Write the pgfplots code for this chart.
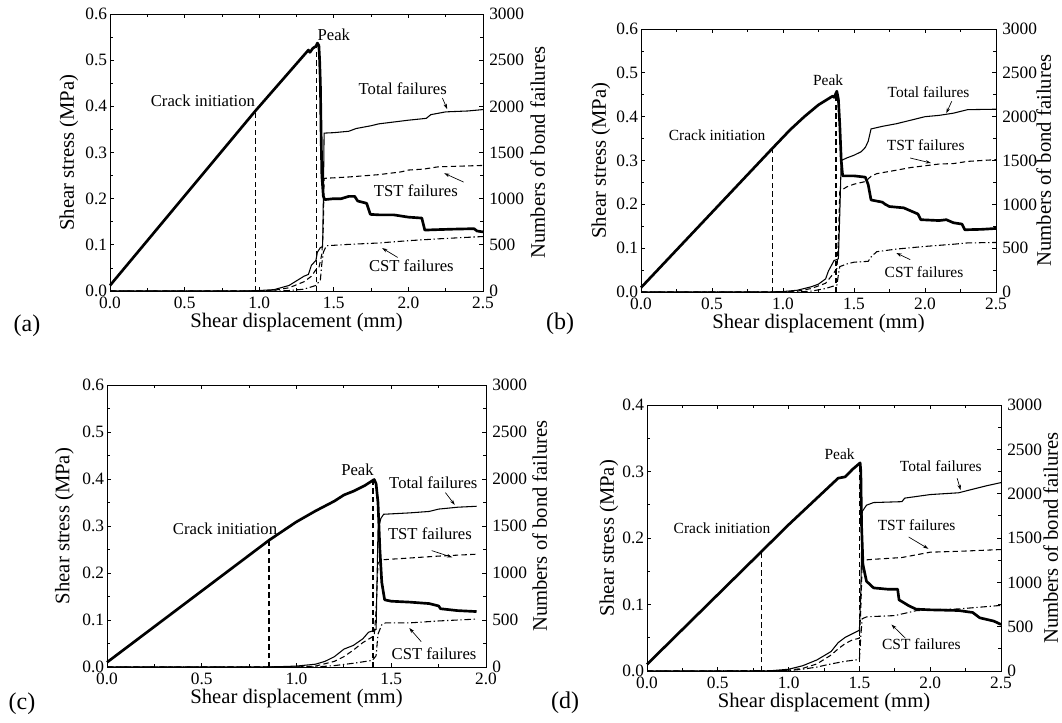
\documentclass[border=0pt]{standalone}
\usepackage{fontspec}
\setmainfont{Liberation Serif}
\usepackage{pgfplots}
\pgfplotsset{compat=1.18}
\usetikzlibrary{arrows.meta}

\newcommand{\tickfont}{\fontsize{13}{13}\selectfont}
\newcommand{\lblfont}{\fontsize{15.5}{15.5}\selectfont}
\newcommand{\annbig}{\fontsize{12.5}{12.5}\selectfont}
\newcommand{\annsmall}{\fontsize{11.6}{11.6}\selectfont}

\tikzset{
  shear/.style={black, line width=2pt, line join=round},
  total/.style={black, line width=0.8pt},
  tst/.style={black, line width=0.8pt, dash pattern=on 4pt off 2.5pt},
  cst/.style={black, line width=0.8pt, dash pattern=on 5pt off 2pt on 1pt off 2pt},
  vline/.style={black, line width=1.1pt, dash pattern=on 4pt off 2.5pt},
  arr/.style={-{Stealth[length=4pt,width=2.6pt]}, line width=0.5pt},
}

\pgfplotsset{
  base/.style={scale only axis, clip=false, xmin=0, ymin=0, tick align=inside,
    major tick length=3pt, minor tick length=2pt,
    axis line style={line width=0.6pt},
    every tick/.style={black, line width=0.6pt},
    every minor tick/.style={black, line width=0.6pt},
    /pgf/number format/assume math mode=true,
    anchor=south west},
  leftax/.style={base, xtick pos=both, ytick pos=left,
    minor x tick num=1, minor y tick num=1,
    xticklabel style={font=\tickfont, inner sep=0pt, yshift=-4.5pt,
      /pgf/number format/fixed, /pgf/number format/fixed zerofill, /pgf/number format/precision=1},
    yticklabel style={font=\tickfont, inner sep=0pt, xshift=-2pt,
      /pgf/number format/fixed, /pgf/number format/fixed zerofill, /pgf/number format/precision=1}},
  rightax/.style={base, axis x line=none, axis y line*=right,
    ymax=3000, ytick={0,500,1000,1500,2000,2500,3000}, minor y tick num=1,
    yticklabel style={font=\tickfont, inner sep=0pt, xshift=4.5pt,
      /pgf/number format/set thousands separator={}}},
}

\begin{document}
\begin{tikzpicture}
\useasboundingbox (0,0) rectangle (796.5pt,-541.5pt);

% ---------------- (a)
\begin{axis}[leftax, at={(82.5pt,-218.25pt)}, width=279.75pt, height=207.75pt,
  xmax=2.5, ymax=0.6, xtick={0,0.5,1,1.5,2,2.5}, ytick={0,0.1,0.2,0.3,0.4,0.5,0.6}]
\addplot[shear] coordinates {(0,0.012) (0.974,0.39) (1.33,0.522) (1.34,0.517) (1.36,0.526)
  (1.38,0.53) (1.39,0.537) (1.40,0.532) (1.405,0.5) (1.41,0.45) (1.415,0.34)
  (1.42,0.25) (1.43,0.205) (1.44,0.198) (1.5,0.2) (1.55,0.2) (1.6,0.205) (1.64,0.205) (1.66,0.195)
  (1.72,0.19) (1.745,0.166) (1.8,0.165) (1.9,0.165) (2.0,0.16) (2.09,0.158) (2.11,0.132)
  (2.2,0.133) (2.3,0.134) (2.44,0.135) (2.46,0.13) (2.5,0.128)};
\addplot[vline] coordinates {(0.974,0) (0.974,0.386)};
\addplot[vline] coordinates {(1.385,0) (1.385,0.528)};
\node[font=\annbig] at (1.50,0.556) {Peak};
\node[font=\annbig] at (0.623,0.411) {Crack initiation};
\node[font=\annbig] at (1.962,0.438) {Total failures};
\draw[arr] (2.228,0.418) -- (2.26,0.394);
\node[font=\annbig] at (2.05,0.218) {TST failures};
\draw[arr] (2.37,0.236) -- (2.24,0.255);
\node[font=\annbig] at (2.02,0.0545) {CST failures};
\draw[arr] (1.928,0.0727) -- (1.824,0.093);
\node[rotate=90, anchor=south, inner sep=0pt, font=\lblfont] at ([xshift=-23.6pt]rel axis cs:0,0.5) {Shear stress (MPa)};
\node[anchor=north, inner sep=0pt, font=\lblfont] at ([yshift=-16.5pt]rel axis cs:0.5,0) {Shear displacement (mm)};
\node[rotate=90, anchor=north, inner sep=0pt, font=\lblfont] at ([xshift=35.25pt]rel axis cs:1,0.5) {Numbers of bond failures};
\end{axis}
\begin{axis}[rightax, at={(82.5pt,-218.25pt)}, width=279.75pt, height=207.75pt, xmax=2.5]
\addplot[total] coordinates {(0,0) (0.9,0) (1.0,5) (1.1,15) (1.2,60) (1.25,110) (1.3,160) (1.33,180)
  (1.35,280) (1.38,330) (1.39,420) (1.41,470) (1.425,480) (1.43,1000) (1.435,1710) (1.5,1715)
  (1.6,1730) (1.65,1760) (1.75,1790) (1.8,1810) (1.9,1830) (2.0,1850) (2.12,1870) (2.15,1910)
  (2.25,1940) (2.4,1950) (2.5,1965)};
\addplot[tst] coordinates {(0,0) (1.0,0) (1.1,8) (1.2,35) (1.3,100) (1.35,160) (1.38,230) (1.4,250)
  (1.42,400) (1.43,700) (1.435,1220) (1.6,1235) (1.8,1260) (1.95,1290) (2.0,1310) (2.1,1320)
  (2.2,1345) (2.5,1360)};
\addplot[cst] coordinates {(0,0) (1.1,0) (1.2,5) (1.3,20) (1.38,60) (1.41,120) (1.42,300) (1.43,420)
  (1.45,490) (1.6,505) (1.8,520) (2.0,545) (2.2,565) (2.5,590)};
\end{axis}

% ---------------- (b)
\begin{axis}[leftax, at={(480.75pt,-219pt)}, width=266.25pt, height=197.25pt,
  xmax=2.5, ymax=0.6, xtick={0,0.5,1,1.5,2,2.5}, ytick={0,0.1,0.2,0.3,0.4,0.5,0.6}]
\addplot[shear] coordinates {(0,0.01) (0.926,0.328) (1.05,0.37) (1.15,0.4) (1.25,0.427) (1.3,0.437)
  (1.35,0.447) (1.36,0.444) (1.379,0.458) (1.39,0.44) (1.4,0.38) (1.41,0.3) (1.42,0.265) (1.5,0.265)
  (1.58,0.262) (1.6,0.245) (1.62,0.21) (1.7,0.205) (1.72,0.2) (1.75,0.195) (1.85,0.192) (1.9,0.185)
  (1.95,0.178) (1.97,0.165) (2.1,0.163) (2.15,0.165) (2.2,0.158) (2.26,0.155) (2.28,0.142)
  (2.4,0.143) (2.5,0.145)};
\addplot[vline] coordinates {(0.926,0) (0.926,0.328)};
\addplot[vline] coordinates {(1.372,0) (1.372,0.455)};
\node[font=\annsmall] at (1.318,0.484) {Peak};
\node[font=\annsmall] at (0.536,0.357) {Crack initiation};
\node[font=\annsmall] at (2.025,0.456) {Total failures};
\draw[arr] (2.188,0.435) -- (2.15,0.408);
\node[font=\annsmall] at (2.005,0.3346) {TST failures};
\draw[arr] (1.896,0.3057) -- (2.042,0.2943);
\node[font=\annsmall] at (1.993,0.0449) {CST failures};
\draw[arr] (1.896,0.0738) -- (1.798,0.089);
\node[rotate=90, anchor=south, inner sep=0pt, font=\lblfont] at ([xshift=-22.8pt]rel axis cs:0,0.5) {Shear stress (MPa)};
\node[anchor=north, inner sep=0pt, font=\lblfont] at ([yshift=-16.5pt]rel axis cs:0.5,0) {Shear displacement (mm)};
\node[rotate=90, anchor=north, inner sep=0pt, font=\lblfont] at ([xshift=30pt]rel axis cs:1,0.5) {Numbers of bond failures};
\end{axis}
\begin{axis}[rightax, at={(480.75pt,-219pt)}, width=266.25pt, height=197.25pt, xmax=2.5]
\addplot[total] coordinates {(0,0) (0.9,0) (1.0,5) (1.1,20) (1.2,60) (1.25,90) (1.3,150) (1.32,240)
  (1.34,300) (1.36,360) (1.38,370) (1.39,380) (1.40,900) (1.41,1500) (1.45,1530) (1.5,1560)
  (1.55,1600) (1.58,1650) (1.6,1720) (1.62,1860) (1.7,1890) (1.8,1920) (1.9,1960) (2.0,2000)
  (2.1,2015) (2.2,2040) (2.3,2080) (2.5,2085)};
\addplot[tst] coordinates {(0,0) (1.0,0) (1.1,10) (1.2,40) (1.3,100) (1.35,200) (1.38,270) (1.39,600)
  (1.4,1150) (1.45,1200) (1.5,1230) (1.58,1260) (1.62,1320) (1.66,1350) (1.8,1390) (1.9,1420)
  (2.0,1440) (2.1,1460) (2.2,1465) (2.3,1490) (2.5,1510)};
\addplot[cst] coordinates {(0,0) (1.1,0) (1.2,10) (1.3,40) (1.38,80) (1.39,200) (1.4,290) (1.45,320)
  (1.5,340) (1.6,350) (1.62,400) (1.66,460) (1.8,490) (1.9,505) (2.0,520) (2.2,545) (2.3,560)
  (2.5,565)};
\end{axis}

% ---------------- (c)
\begin{axis}[leftax, at={(80.25pt,-500.25pt)}, width=284.25pt, height=211.5pt,
  xmax=2.0, ymax=0.6, xtick={0,0.5,1,1.5,2}, ytick={0,0.1,0.2,0.3,0.4,0.5,0.6}]
\addplot[shear] coordinates {(0,0.01) (0.856,0.27) (1.0,0.309) (1.1,0.332) (1.2,0.353) (1.25,0.366)
  (1.3,0.374) (1.36,0.386) (1.41,0.399) (1.42,0.39) (1.43,0.35) (1.44,0.25)
  (1.45,0.18) (1.465,0.143) (1.5,0.14) (1.6,0.138) (1.7,0.135) (1.75,0.13) (1.76,0.124)
  (1.85,0.12) (1.95,0.118)};
\addplot[vline] coordinates {(0.856,0) (0.856,0.27)};
\addplot[vline] coordinates {(1.404,0) (1.404,0.395)};
\node[font=\annbig] at (1.322,0.419) {Peak};
\node[font=\annbig] at (0.623,0.294) {Crack initiation};
\node[font=\annbig] at (1.722,0.392) {Total failures};
\draw[arr] (1.786,0.371) -- (1.835,0.345);
\node[font=\annbig] at (1.704,0.2835) {TST failures};
\draw[arr] (1.713,0.2477) -- (1.822,0.2334);
\node[font=\annbig] at (1.726,0.0293) {CST failures};
\draw[arr] (1.658,0.054) -- (1.595,0.083);
\node[rotate=90, anchor=south, inner sep=0pt, font=\lblfont] at ([xshift=-24.75pt]rel axis cs:0,0.5) {Shear stress (MPa)};
\node[anchor=north, inner sep=0pt, font=\lblfont] at ([yshift=-16.5pt]rel axis cs:0.5,0) {Shear displacement (mm)};
\node[rotate=90, anchor=north, inner sep=0pt, font=\lblfont] at ([xshift=34.5pt]rel axis cs:1,0.5) {Numbers of bond failures};
\end{axis}
\begin{axis}[rightax, at={(80.25pt,-500.25pt)}, width=284.25pt, height=211.5pt, xmax=2.0]
\addplot[total] coordinates {(0,0) (0.8,0) (0.9,3) (1.0,10) (1.1,30) (1.15,60) (1.2,110) (1.25,190)
  (1.3,230) (1.35,300) (1.38,370) (1.41,390) (1.42,400) (1.43,1450) (1.445,1580) (1.46,1625)
  (1.6,1640) (1.7,1655) (1.75,1680) (1.85,1700) (1.95,1710)};
\addplot[tst] coordinates {(0,0) (1.0,0) (1.1,10) (1.2,60) (1.25,110) (1.3,180) (1.35,260) (1.4,320)
  (1.41,330) (1.42,600) (1.43,1100) (1.445,1140) (1.6,1160) (1.75,1180) (1.95,1200)};
\addplot[cst] coordinates {(0,0) (1.1,0) (1.2,15) (1.3,40) (1.4,70) (1.42,120) (1.43,350) (1.45,450)
  (1.47,470) (1.6,470) (1.75,490) (1.95,510)};
\end{axis}

% ---------------- (d)
\begin{axis}[leftax, at={(485.25pt,-503.25pt)}, width=265.5pt, height=199.5pt,
  xmax=2.5, ymax=0.4, xtick={0,0.5,1,1.5,2,2.5}, ytick={0,0.1,0.2,0.3,0.4}]
\addplot[shear] coordinates {(0,0.01) (0.81,0.18) (1.0,0.22) (1.2,0.26) (1.3,0.28)
  (1.35,0.29) (1.4,0.292) (1.45,0.303) (1.505,0.313) (1.51,0.3) (1.515,0.22) (1.525,0.16)
  (1.55,0.135) (1.6,0.125) (1.7,0.123) (1.77,0.123) (1.78,0.107) (1.85,0.098) (1.9,0.093)
  (2.0,0.092) (2.2,0.091) (2.3,0.088) (2.35,0.08) (2.45,0.075) (2.5,0.07)};
\addplot[vline] coordinates {(0.81,0) (0.81,0.178)};
\addplot[vline] coordinates {(1.499,0) (1.499,0.31)};
\node[font=\annsmall] at (1.36,0.3266) {Peak};
\node[font=\annsmall] at (0.53,0.2142) {Crack initiation};
\node[font=\annsmall] at (2.075,0.3078) {Total failures};
\draw[arr] (2.19,0.29) -- (2.215,0.272);
\node[font=\annsmall] at (1.904,0.219) {TST failures};
\draw[arr] (1.848,0.2015) -- (1.987,0.1838);
\node[font=\annsmall] at (1.938,0.041) {CST failures};
\draw[arr] (1.824,0.0496) -- (1.726,0.0699);
\node[rotate=90, anchor=south, inner sep=0pt, font=\lblfont] at ([xshift=-21.4pt]rel axis cs:0,0.5) {Shear stress (MPa)};
\node[anchor=north, inner sep=0pt, font=\lblfont] at ([yshift=-16.5pt]rel axis cs:0.5,0) {Shear displacement (mm)};
\node[rotate=90, anchor=north, inner sep=0pt, font=\lblfont] at ([xshift=31.5pt]rel axis cs:1,0.5) {Numbers of bond failures};
\end{axis}
\begin{axis}[rightax, at={(485.25pt,-503.25pt)}, width=265.5pt, height=199.5pt, xmax=2.5]
\addplot[total] coordinates {(0,0) (0.85,0) (1.0,20) (1.1,60) (1.2,125) (1.3,220) (1.35,320) (1.4,380)
  (1.45,420) (1.5,460) (1.51,900) (1.52,1800) (1.55,1870) (1.6,1900) (1.8,1910) (1.82,1950)
  (2.0,1990) (2.2,2010) (2.3,2050) (2.4,2090) (2.5,2125)};
\addplot[tst] coordinates {(0,0) (0.9,0) (1.0,10) (1.1,30) (1.2,80) (1.3,180) (1.35,250) (1.4,310)
  (1.45,350) (1.5,370) (1.51,700) (1.52,1250) (1.6,1260) (1.8,1280) (1.9,1310) (2.0,1340)
  (2.2,1350) (2.5,1370)};
\addplot[cst] coordinates {(0,0) (1.0,5) (1.1,20) (1.2,45) (1.3,80) (1.4,110) (1.5,130) (1.51,400)
  (1.52,590) (1.55,610) (1.6,615) (1.75,625) (1.9,680) (2.0,690) (2.2,700) (2.5,740)};
\end{axis}

\node[font=\fontsize{18}{18}\selectfont] at (20.25pt,-244.5pt) {(a)};
\node[font=\fontsize{18}{18}\selectfont] at (420pt,-243pt) {(b)};
\node[font=\fontsize{18}{18}\selectfont] at (16.5pt,-528pt) {(c)};
\node[font=\fontsize{18}{18}\selectfont] at (423.75pt,-527.25pt) {(d)};
\end{tikzpicture}
\end{document}
